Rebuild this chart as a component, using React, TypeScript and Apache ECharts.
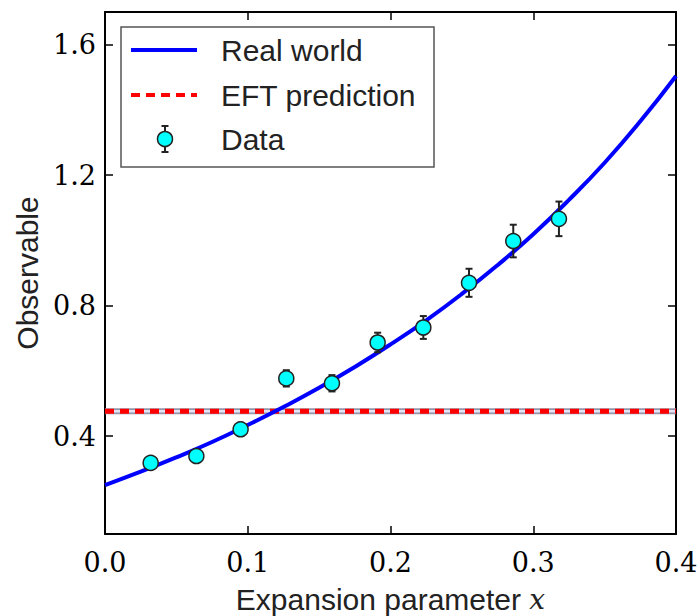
import React, { useEffect, useRef } from "react";
import * as echarts from "echarts";

const curveX = [0, 0.025, 0.05, 0.075, 0.1, 0.125, 0.15, 0.175, 0.2, 0.225, 0.25, 0.275, 0.3, 0.325, 0.35, 0.375, 0.4];
const curveY = [0.25, 0.291, 0.335, 0.382, 0.434, 0.489, 0.548, 0.612, 0.681, 0.755, 0.836, 0.924, 1.019, 1.124, 1.238, 1.365, 1.504];
const eftValue = 0.476;
const dataX = [0.032, 0.064, 0.095, 0.127, 0.159, 0.191, 0.223, 0.255, 0.286, 0.318];
const dataY = [0.318, 0.339, 0.421, 0.577, 0.562, 0.687, 0.733, 0.870, 0.998, 1.066];
const dataErr = [0.015, 0.018, 0.02, 0.025, 0.025, 0.03, 0.035, 0.043, 0.05, 0.053];
const xTicks = [0, 0.1, 0.2, 0.3, 0.4];
const yTicks = [0.4, 0.8, 1.2, 1.6];
const legendLabels = ["Real world", "EFT prediction", "Data"];

export default function App() {
  const ref = useRef<HTMLDivElement>(null);
  useEffect(() => {
    if (!ref.current) return;
    const chart = echarts.init(ref.current, null, { renderer: "svg" });
    const frame = { show: true, onZero: false, lineStyle: { color: "#000", width: 2 } };
    const tickLabelStyle = { fontFamily: "DejaVu Serif", fontSize: 27, color: "#000" };
    const sans = "Liberation Sans, Arial, sans-serif";
    const lx = 131, lx2 = 197, tx = 221;
    const ly = [50, 95, 139];
    chart.setOption({
      animation: false,
      backgroundColor: "#fff",
      grid: { left: 105, right: 22, top: 12, bottom: 82, containLabel: false, outerBoundsMode: "none" },
      xAxis: [
        {
          type: "value", min: 0, max: 0.4, interval: 0.1, position: "bottom",
          axisLine: frame,
          axisTick: { show: true, inside: true, length: 8, lineStyle: { color: "#000", width: 1.5 }, customValues: xTicks },
          axisLabel: { ...tickLabelStyle, margin: 15, formatter: (v: number) => v.toFixed(1), customValues: xTicks },
          splitLine: { show: false },
          name: "{a|Expansion parameter }{b|x}",
          nameLocation: "middle",
          nameGap: 50,
          nameTextStyle: {
            rich: {
              a: { fontFamily: sans, fontSize: 30, color: "#222" },
              b: { fontFamily: "DejaVu Serif", fontStyle: "italic", fontSize: 28, color: "#222" },
            },
          },
        },
        {
          type: "value", min: 0, max: 0.4, interval: 0.1, position: "top",
          axisLine: frame,
          axisTick: { show: true, inside: true, length: 8, lineStyle: { color: "#000", width: 1.5 } },
          axisLabel: { show: false },
          splitLine: { show: false },
        },
      ],
      yAxis: [
        {
          type: "value", min: 0.1, max: 1.7, position: "left",
          axisLine: frame,
          axisTick: { show: true, inside: true, length: 8, lineStyle: { color: "#000", width: 1.5 }, customValues: yTicks },
          axisLabel: { ...tickLabelStyle, margin: 9, formatter: (v: number) => v.toFixed(1), customValues: yTicks },
          splitLine: { show: false },
          name: "Observable",
          nameLocation: "middle",
          nameGap: 62,
          nameTextStyle: { fontFamily: sans, fontSize: 30, color: "#222" },
        },
        {
          type: "value", min: 0.1, max: 1.7, position: "right",
          axisLine: frame,
          axisTick: { show: true, inside: true, length: 8, lineStyle: { color: "#000", width: 1.5 }, customValues: yTicks },
          axisLabel: { show: false },
          splitLine: { show: false },
        },
      ],
      series: [
        {
          name: "EFT band", type: "line", xAxisIndex: 0, yAxisIndex: 0,
          data: [[0, eftValue], [0.4, eftValue]], showSymbol: false, silent: true,
          lineStyle: { color: "#9494aa", width: 6 }, z: 2,
        },
        {
          name: "EFT band centre", type: "line", xAxisIndex: 0, yAxisIndex: 0,
          data: [[0, eftValue], [0.4, eftValue]], showSymbol: false, silent: true,
          lineStyle: { color: "#e2e2f2", width: 2.5 }, z: 3,
        },
        {
          name: "EFT prediction", type: "line", xAxisIndex: 0, yAxisIndex: 0,
          data: [[0, eftValue], [0.4, eftValue]], showSymbol: false,
          lineStyle: { color: "#ff0000", width: 5, type: [9, 6] }, z: 4,
        },
        {
          name: "Real world", type: "line", xAxisIndex: 0, yAxisIndex: 0,
          data: curveX.map((x, i) => [x, curveY[i]]), smooth: true, showSymbol: false,
          lineStyle: { color: "#0000ff", width: 4 }, z: 5,
        },
        {
          name: "Data errors", type: "custom", xAxisIndex: 0, yAxisIndex: 0,
          data: dataX.map((x, i) => [x, dataY[i], dataErr[i]]),
          encode: { x: 0, y: 1 },
          z: 6,
          renderItem: (params: any, api: any) => {
            const x = api.value(0), y = api.value(1), e = api.value(2);
            const t = api.coord([x, y + e]);
            const b = api.coord([x, y - e]);
            const st = { stroke: "#222", lineWidth: 2 };
            return {
              type: "group",
              children: [
                { type: "line", shape: { x1: t[0], y1: t[1], x2: b[0], y2: b[1] }, style: st },
                { type: "line", shape: { x1: t[0] - 3.5, y1: t[1], x2: t[0] + 3.5, y2: t[1] }, style: st },
                { type: "line", shape: { x1: b[0] - 3.5, y1: b[1], x2: b[0] + 3.5, y2: b[1] }, style: st },
              ],
            };
          },
        },
        {
          name: "Data", type: "scatter", xAxisIndex: 0, yAxisIndex: 0,
          data: dataX.map((x, i) => [x, dataY[i]]),
          symbol: "circle", symbolSize: 15,
          itemStyle: { color: "#00ffff", borderColor: "#222", borderWidth: 1.5, opacity: 1 },
          z: 7,
        },
      ],
      graphic: [
        {
          type: "rect", shape: { x: 121, y: 27, width: 313, height: 140 },
          style: { fill: "#fff", stroke: "#555", lineWidth: 1.5 }, z: 100,
        },
        { type: "line", shape: { x1: lx, y1: ly[0], x2: lx2, y2: ly[0] }, style: { stroke: "#0000ff", lineWidth: 4 }, z: 101 },
        { type: "line", shape: { x1: lx, y1: ly[1], x2: lx2, y2: ly[1] }, style: { stroke: "#ff0000", lineWidth: 4, lineDash: [9, 6] }, z: 101 },
        { type: "line", shape: { x1: 165, y1: ly[2] - 13, x2: 165, y2: ly[2] + 13 }, style: { stroke: "#222", lineWidth: 2 }, z: 101 },
        { type: "line", shape: { x1: 161.5, y1: ly[2] - 13, x2: 168.5, y2: ly[2] - 13 }, style: { stroke: "#222", lineWidth: 2 }, z: 101 },
        { type: "line", shape: { x1: 161.5, y1: ly[2] + 13, x2: 168.5, y2: ly[2] + 13 }, style: { stroke: "#222", lineWidth: 2 }, z: 101 },
        { type: "circle", shape: { cx: 165, cy: ly[2], r: 7.5 }, style: { fill: "#00ffff", stroke: "#222", lineWidth: 1.5 }, z: 102 },
        ...legendLabels.map((t, i) => ({
          type: "text", x: tx, y: ly[i], z: 101,
          style: { text: t, fill: "#222", font: `30px ${sans}`, textVerticalAlign: "middle", verticalAlign: "middle" },
        })),
      ],
    });
    return () => chart.dispose();
  }, []);
  return <div ref={ref} style={{ position: "fixed", left: 0, top: 0, width: 698, height: 616 }} />;
}
